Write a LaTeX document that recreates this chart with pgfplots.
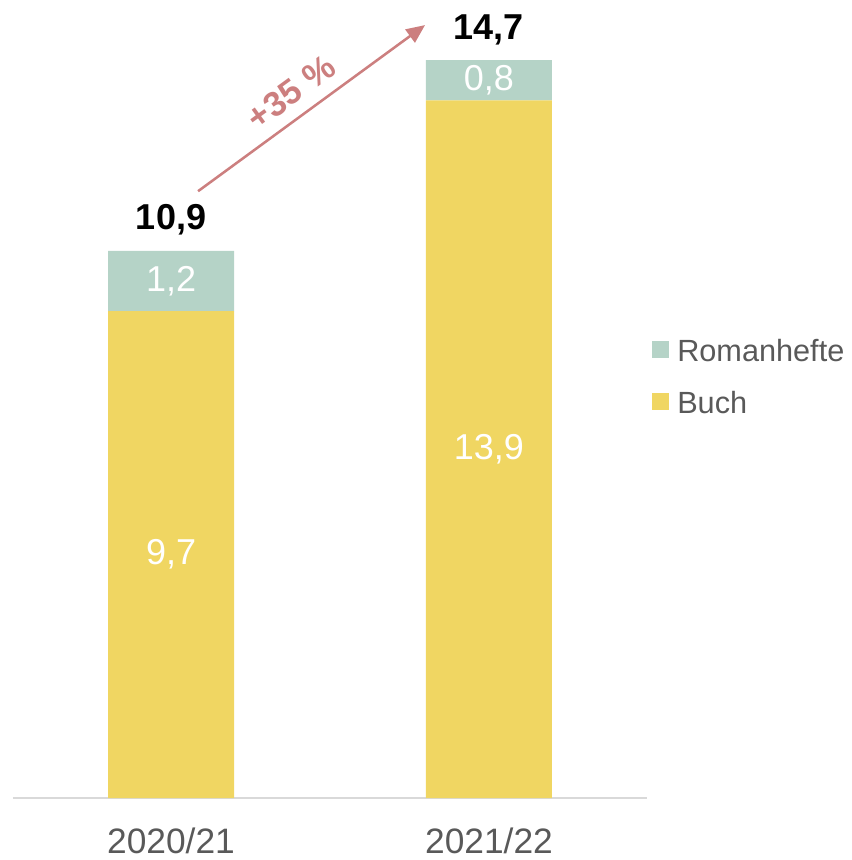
\documentclass[border=0pt]{standalone}
\usepackage{fontspec}
\setmainfont{Liberation Sans}
\usepackage{pgfplots}
\pgfplotsset{compat=1.18}
\usetikzlibrary{arrows.meta}
\definecolor{buch}{HTML}{F0D662}
\definecolor{roman}{HTML}{B5D3C7}
\definecolor{arrowc}{HTML}{CC7F7F}
\definecolor{txtgray}{HTML}{595959}
\definecolor{axgray}{HTML}{D9D9D9}
\begin{document}
\begin{tikzpicture}[x=1pt,y=1pt]
\useasboundingbox (0,0) rectangle (638.25,645);
\begin{axis}[
  at={(9.75pt,46.5pt)}, anchor=south west,
  scale only axis, width=475.5pt, height=598.5pt,
  xmin=-0.497, xmax=1.497, ymin=0, ymax=15.9,
  ybar stacked, bar width=94.5pt,
  axis x line*=bottom, axis y line=none,
  x axis line style={axgray, line width=1.5pt},
  xtick={0,1}, xticklabels={2020/21,2021/22},
  xtick style={draw=none}, major tick length=0pt,
  xticklabel style={font=\fontsize{26.5}{30}\selectfont, text=txtgray, anchor=base, yshift=-41.5pt},
  clip=false,
  reverse legend,
  legend style={draw=none, fill=none, at={(1.0016,0.529)}, anchor=west,
    font=\fontsize{23}{27}\selectfont, text=txtgray,
    nodes={inner sep=0pt, text height=17pt, text depth=0pt},
    row sep=22pt,
    /tikz/every odd column/.append style={column sep=6pt}},
  legend cell align=left,
  legend image code/.code={\fill[#1] (0pt,-6.4pt) rectangle (12.75pt,6.4pt);},
]
\addplot[fill=buch, draw=none] coordinates {(0,9.7) (1,13.9)};
\addplot[fill=roman, draw=none] coordinates {(0,1.2) (1,0.8)};
\legend{Buch, Romanhefte}
\coordinate (a1) at (axis cs:0,4.85);
\coordinate (a2) at (axis cs:0,10.3);
\coordinate (b1) at (axis cs:1,6.95);
\coordinate (b2) at (axis cs:1,14.3);
\coordinate (ta) at (axis cs:0,10.9);
\coordinate (tb) at (axis cs:1,14.7);
\coordinate (s) at (axis cs:0.085,12.09);
\coordinate (e) at (axis cs:0.799,15.40);
\coordinate (p) at (axis cs:0.377,14.06);
\end{axis}
\node[white, font=\fontsize{27}{30}\selectfont] at (a1) {9,7};
\node[white, font=\fontsize{27}{30}\selectfont] at (a2) {1,2};
\node[white, font=\fontsize{27}{30}\selectfont] at (b1) {13,9};
\node[white, font=\fontsize{27}{30}\selectfont] at (b2) {0,8};
\node[black, font=\bfseries\fontsize{27}{30}\selectfont, anchor=base, yshift=15.75pt] at (ta) {10,9};
\node[black, font=\bfseries\fontsize{27}{30}\selectfont, anchor=base, yshift=15.75pt] at (tb) {14,7};
\draw[arrowc, line width=1.9pt, -{Triangle[length=14pt,width=12pt]}] (s) -- (e);
\node[arrowc, font=\bfseries\fontsize{26}{30}\selectfont, rotate=36] at (p) {+35 \%};
\end{tikzpicture}
\end{document}
